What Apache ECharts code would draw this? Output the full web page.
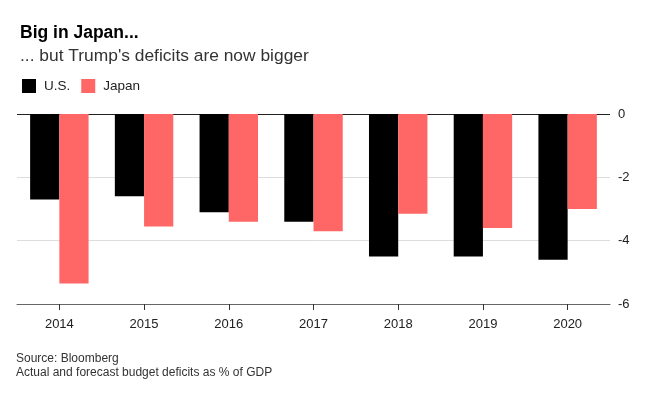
<!DOCTYPE html>
<html>
<head>
<meta charset="utf-8">
<script src="https://cdn.jsdelivr.net/npm/echarts@6/dist/echarts.min.js"></script>
<style>
html,body{margin:0;padding:0;background:#fff;}
#chart{width:657px;height:402px;}
</style>
</head>
<body>
<div id="chart"></div>
<script>
var years = ['2014','2015','2016','2017','2018','2019','2020'];
var usDeficit = [-2.7, -2.6, -3.1, -3.4, -4.5, -4.5, -4.6];
var japanDeficit = [-5.35, -3.55, -3.4, -3.7, -3.15, -3.6, -3.0];
var yTicks = [-6, -4, -2, 0];

var FONT = '"Liberation Sans", Arial, sans-serif';
var chart = echarts.init(document.getElementById('chart'), null, {renderer: 'canvas'});
chart.setOption({
  backgroundColor: '#fff',
  animation: false,
  textStyle: {fontFamily: FONT},
  title: {
    text: 'Big in Japan...',
    subtext: '... but Trump\'s deficits are now bigger',
    left: 20, top: 24, padding: 0,
    itemGap: 6,
    textStyle: {fontFamily: FONT, fontSize: 17.5, fontWeight: 'bold', color: '#000'},
    subtextStyle: {fontFamily: FONT, fontSize: 17.4, color: '#333'}
  },
  legend: {
    left: 17, top: 74,
    itemWidth: 14, itemHeight: 14, itemGap: 11,
    icon: 'rect',
    textStyle: {fontFamily: FONT, fontSize: 13.5, color: '#222', padding: [0, 0, 0, 3]},
    data: ['U.S.', 'Japan']
  },
  grid: {left: 17, right: 47, top: 114, bottom: 98, containLabel: false},
  xAxis: {
    type: 'category',
    data: years,
    position: 'bottom',
    axisLine: {onZero: false, lineStyle: {color: '#666', width: 1}},
    axisTick: {show: true, alignWithLabel: true, inside: false, length: 6, lineStyle: {color: '#333', width: 1}},
    axisLabel: {fontFamily: FONT, fontSize: 13, color: '#222', margin: 14}
  },
  yAxis: {
    type: 'value',
    position: 'right',
    min: yTicks[0], max: yTicks[yTicks.length - 1], interval: 2,
    axisLine: {show: false},
    axisTick: {show: false},
    axisLabel: {fontFamily: FONT, fontSize: 13, color: '#222', margin: 8},
    splitLine: {lineStyle: {color: ['#666', '#ddd', '#ddd', '#222'], width: 1}}
  },
  series: [
    {
      name: 'U.S.', type: 'bar', data: usDeficit,
      barGap: 0, barCategoryGap: '31%',
      itemStyle: {color: '#000'}
    },
    {
      name: 'Japan', type: 'bar', data: japanDeficit,
      barGap: 0, barCategoryGap: '31%',
      itemStyle: {color: '#ff6666'}
    }
  ],
  graphic: [
    {type: 'text', left: 16, top: 352, style: {text: 'Source: Bloomberg\nActual and forecast budget deficits as % of GDP', font: '12px ' + FONT, fill: '#333', lineHeight: 14}}
  ]
});
</script>
</body>
</html>
